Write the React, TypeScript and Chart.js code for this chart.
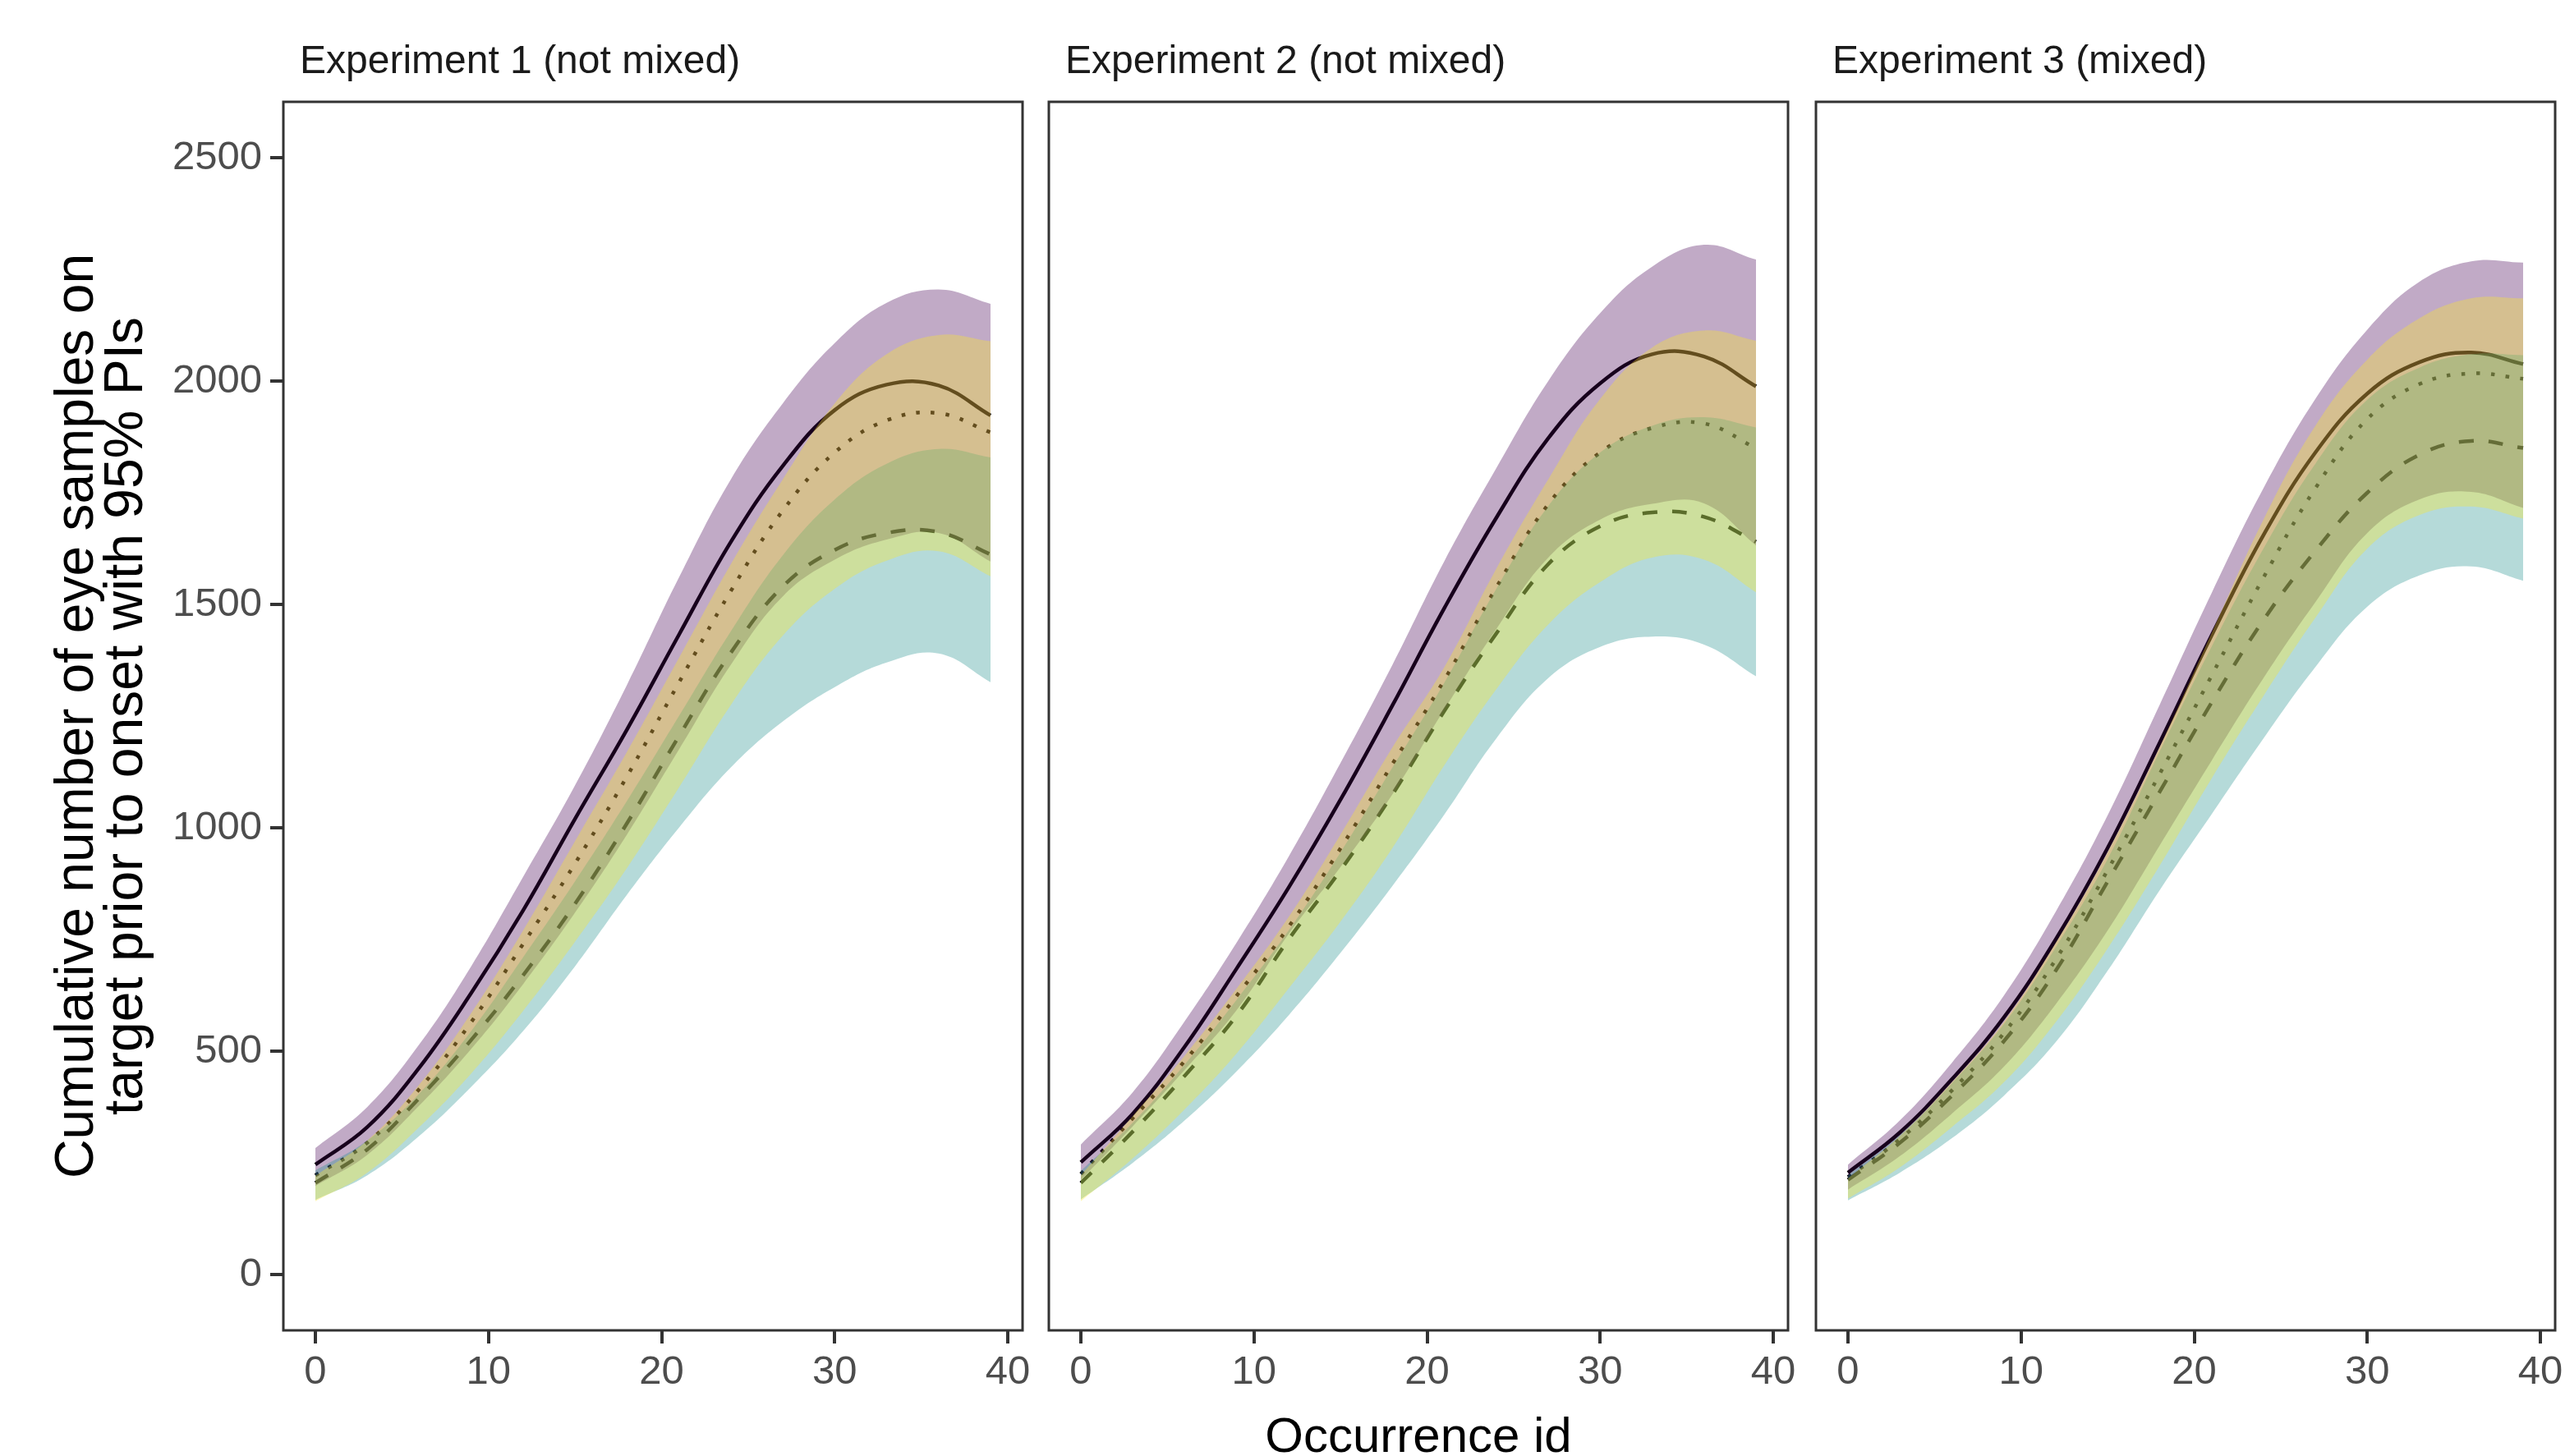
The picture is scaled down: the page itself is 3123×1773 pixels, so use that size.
import { useEffect, useRef } from "react";
import { Chart, registerables } from "chart.js";

Chart.register(...registerables);

// ---------------- data ----------------
const occurrence = [0, 3, 6, 9, 12, 15, 18, 21, 24, 27, 30, 33, 36, 39];
const xTickValues = [0, 10, 20, 30, 40];
const yTickValues = [0, 500, 1000, 1500, 2000, 2500];
const panelTitles = ["Experiment 1 (not mixed)", "Experiment 2 (not mixed)", "Experiment 3 (mixed)"];
const xAxisTitle = "Occurrence id";
const yAxisTitle = ["Cumulative number of eye samples on", "target prior to onset with 95% PIs"];

// Experiment 1
const exp1Solid = [246, 330, 463, 630, 815, 1020, 1220, 1432, 1640, 1810, 1935, 1992, 1990, 1923];
const exp1SolidHigh = [283, 375, 515, 690, 890, 1095, 1320, 1560, 1780, 1950, 2085, 2175, 2205, 2173];
const exp1SolidLow = [198, 268, 378, 505, 650, 810, 985, 1175, 1365, 1518, 1600, 1645, 1660, 1596];
const exp1Dotted = [222, 295, 415, 565, 740, 920, 1115, 1325, 1530, 1710, 1840, 1912, 1928, 1885];
const exp1DottedHigh = [221, 300, 425, 585, 770, 970, 1170, 1380, 1590, 1780, 1950, 2060, 2103, 2089];
const exp1DottedLow = [164, 228, 330, 450, 590, 745, 910, 1090, 1275, 1430, 1535, 1598, 1619, 1563];
const exp1Dashed = [205, 280, 395, 525, 670, 830, 1010, 1205, 1392, 1540, 1622, 1660, 1662, 1612];
const exp1DashedHigh = [233, 300, 405, 545, 710, 880, 1060, 1250, 1440, 1610, 1735, 1815, 1848, 1829];
const exp1DashedLow = [167, 222, 310, 420, 545, 690, 850, 1000, 1135, 1238, 1315, 1370, 1390, 1326];

// Experiment 2
const exp2Solid = [251, 360, 510, 685, 866, 1063, 1274, 1492, 1694, 1872, 1995, 2060, 2055, 1988];
const exp2SolidHigh = [291, 408, 567, 743, 935, 1145, 1365, 1597, 1805, 2000, 2152, 2256, 2305, 2272];
const exp2SolidLow = [212, 332, 458, 592, 762, 912, 1075, 1265, 1445, 1605, 1690, 1725, 1726, 1632];
const exp2Dotted = [225, 350, 478, 624, 778, 954, 1143, 1331, 1538, 1724, 1840, 1895, 1905, 1850];
const exp2DottedHigh = [222, 355, 490, 640, 800, 985, 1180, 1360, 1580, 1780, 1960, 2075, 2113, 2090];
const exp2DottedLow = [164, 260, 370, 495, 640, 790, 955, 1140, 1310, 1455, 1550, 1605, 1600, 1527];
const exp2Dashed = [205, 320, 445, 580, 750, 905, 1075, 1262, 1435, 1590, 1675, 1706, 1696, 1640];
const exp2DashedHigh = [232, 340, 470, 615, 770, 945, 1135, 1325, 1535, 1720, 1840, 1900, 1919, 1896];
const exp2DashedLow = [168, 250, 345, 455, 580, 720, 870, 1030, 1200, 1335, 1405, 1428, 1410, 1339];

// Experiment 3
const exp3Solid = [228, 318, 437, 575, 750, 955, 1190, 1430, 1655, 1840, 1972, 2042, 2064, 2038];
const exp3SolidHigh = [246, 345, 474, 624, 812, 1028, 1275, 1525, 1760, 1960, 2115, 2222, 2268, 2265];
const exp3SolidLow = [190, 265, 360, 465, 605, 770, 960, 1150, 1335, 1505, 1660, 1735, 1752, 1716];
const exp3Dotted = [218, 303, 412, 540, 705, 905, 1120, 1340, 1560, 1760, 1915, 1993, 2017, 2005];
const exp3DottedHigh = [215, 310, 430, 565, 742, 945, 1180, 1435, 1690, 1900, 2048, 2140, 2185, 2185];
const exp3DottedLow = [170, 240, 330, 430, 565, 730, 915, 1110, 1295, 1470, 1625, 1700, 1719, 1692];
const exp3Dashed = [212, 295, 400, 522, 680, 880, 1080, 1280, 1465, 1620, 1750, 1835, 1866, 1850];
const exp3DashedHigh = [222, 312, 428, 560, 732, 930, 1170, 1405, 1625, 1815, 1958, 2030, 2060, 2058];
const exp3DashedLow = [166, 228, 305, 400, 520, 680, 860, 1030, 1200, 1360, 1495, 1565, 1585, 1553];

const experiments = [
  { solid: exp1Solid, solidHigh: exp1SolidHigh, solidLow: exp1SolidLow, dotted: exp1Dotted, dottedHigh: exp1DottedHigh, dottedLow: exp1DottedLow, dashed: exp1Dashed, dashedHigh: exp1DashedHigh, dashedLow: exp1DashedLow },
  { solid: exp2Solid, solidHigh: exp2SolidHigh, solidLow: exp2SolidLow, dotted: exp2Dotted, dottedHigh: exp2DottedHigh, dottedLow: exp2DottedLow, dashed: exp2Dashed, dashedHigh: exp2DashedHigh, dashedLow: exp2DashedLow },
  { solid: exp3Solid, solidHigh: exp3SolidHigh, solidLow: exp3SolidLow, dotted: exp3Dotted, dottedHigh: exp3DottedHigh, dottedLow: exp3DottedLow, dashed: exp3Dashed, dashedHigh: exp3DashedHigh, dashedLow: exp3DashedLow },
];

// ---------------- style / layout ----------------
const FONT = "'Liberation Sans', Arial, Helvetica, sans-serif";
const PURPLE = "rgba(68, 1, 84, 0.335)";
const TEAL = "rgba(33, 144, 140, 0.335)";
const YELLOW = "rgba(253, 231, 37, 0.335)";
const PAGE_H = 1773;
const LINE_W = 4.5;

const PANELS = [
  { left: 0, width: 1261, padLeft: 0, padRight: 16, showY: true, showXTitle: false },
  { left: 1261, width: 933, padLeft: 16, padRight: 17, showY: false, showXTitle: true },
  { left: 2194, width: 929, padLeft: 17, padRight: 12, showY: false, showXTitle: false },
];

const panelFrame = {
  id: "panelFrame",
  afterDatasetsDraw(chart: any) {
    const { ctx, chartArea } = chart;
    ctx.save();
    ctx.strokeStyle = "#333333";
    ctx.lineWidth = 3;
    ctx.strokeRect(chartArea.left, chartArea.top, chartArea.right - chartArea.left, chartArea.bottom - chartArea.top);
    ctx.restore();
  },
};

const stripLabel = {
  id: "stripLabel",
  afterDraw(chart: any, _args: any, opts: any) {
    const { ctx, chartArea } = chart;
    ctx.save();
    ctx.font = `48px ${FONT}`;
    ctx.fillStyle = "#1a1a1a";
    ctx.textAlign = "left";
    ctx.textBaseline = "alphabetic";
    ctx.fillText(opts.text, chartArea.left + 20, chartArea.top - 35);
    ctx.restore();
  },
};

function pts(arr: number[]) {
  return occurrence.map((x, i) => ({ x, y: arr[i] }));
}

const band = (arr: number[], color: string | null) => ({
  data: pts(arr),
  borderWidth: 0,
  borderColor: "rgba(0,0,0,0)",
  backgroundColor: color || "rgba(0,0,0,0)",
  fill: color ? "+1" : false,
  pointRadius: 0,
  tension: 0.4,
});

const line = (arr: number[], dash: number[]) => ({
  data: pts(arr),
  borderWidth: LINE_W,
  borderColor: "#000000",
  borderDash: dash,
  borderCapStyle: "butt",
  fill: false,
  pointRadius: 0,
  tension: 0.4,
});

function buildConfig(p: any, i: number): any {
  const e = experiments[i];
  return {
    type: "line",
    data: {
      datasets: [
        band(e.dottedHigh, YELLOW),
        band(e.dottedLow, null),
        band(e.dashedHigh, TEAL),
        band(e.dashedLow, null),
        band(e.solidHigh, PURPLE),
        band(e.solidLow, null),
        line(e.solid, []),
        line(e.dotted, [LINE_W, LINE_W * 3]),
        line(e.dashed, [LINE_W * 4, LINE_W * 4]),
      ],
    },
    options: {
      animation: false,
      responsive: false,
      devicePixelRatio: 1,
      events: [],
      layout: { padding: { left: p.padLeft, right: p.padRight, top: 124, bottom: 0 } },
      plugins: {
        legend: { display: false },
        tooltip: { enabled: false },
        title: { display: false },
        stripLabel: { text: panelTitles[i] },
      },
      scales: {
        x: {
          type: "linear",
          min: -1.85,
          max: 40.85,
          afterBuildTicks: (s: any) => {
            s.ticks = xTickValues.map((v) => ({ value: v }));
          },
          afterFit: (s: any) => {
            s.height = 153;
            s.paddingLeft = 0;
            s.paddingRight = 0;
          },
          grid: { display: true, drawOnChartArea: false, drawTicks: true, tickLength: 16, tickColor: "#333333", tickWidth: 4, lineWidth: 0 },
          border: { display: false },
          ticks: {
            padding: 6,
            color: "#4d4d4d",
            autoSkip: false,
            maxRotation: 0,
            callback: (v: any) => String(v),
            font: { family: FONT, size: 49, lineHeight: 1.2 },
          },
          title: {
            display: p.showXTitle,
            text: xAxisTitle,
            color: "#000000",
            font: { family: FONT, size: 60, lineHeight: 1.2 },
            padding: { top: 0, bottom: -14 },
          },
        },
        y: {
          type: "linear",
          display: p.showY,
          min: -125,
          max: 2625,
          afterBuildTicks: (s: any) => {
            s.ticks = yTickValues.map((v) => ({ value: v }));
          },
          afterFit: (s: any) => {
            if (p.showY) s.width = 345;
            s.paddingTop = 0;
            s.paddingBottom = 0;
          },
          grid: { display: true, drawOnChartArea: false, drawTicks: true, tickLength: 16, tickColor: "#333333", tickWidth: 4, lineWidth: 0 },
          border: { display: false },
          ticks: {
            padding: 10,
            color: "#4d4d4d",
            autoSkip: false,
            callback: (v: any) => String(v),
            font: { family: FONT, size: 49, lineHeight: 1.2 },
          },
          title: {
            display: p.showY,
            text: yAxisTitle,
            color: "#000000",
            font: { family: FONT, size: 66, lineHeight: 60 / 66 },
            padding: { top: 65, bottom: 0 },
          },
        },
      },
    },
    plugins: [panelFrame, stripLabel],
  };
}

export default function App() {
  const r0 = useRef<HTMLCanvasElement>(null);
  const r1 = useRef<HTMLCanvasElement>(null);
  const r2 = useRef<HTMLCanvasElement>(null);
  const refs = [r0, r1, r2];

  useEffect(() => {
    document.body.style.margin = "0";
    document.documentElement.style.overflow = "hidden";
    const charts = PANELS.map((p, i) => new Chart(refs[i].current as HTMLCanvasElement, buildConfig(p, i)));
    return () => charts.forEach((c) => c.destroy());
  }, []);

  return (
    <div style={{ position: "absolute", left: 0, top: 0, width: 3123, height: PAGE_H, overflow: "hidden", background: "#ffffff" }}>
      {PANELS.map((p, i) => (
        <canvas
          key={i}
          ref={refs[i]}
          width={p.width}
          height={PAGE_H}
          style={{ position: "absolute", left: p.left, top: 0, width: p.width, height: PAGE_H }}
        />
      ))}
    </div>
  );
}
